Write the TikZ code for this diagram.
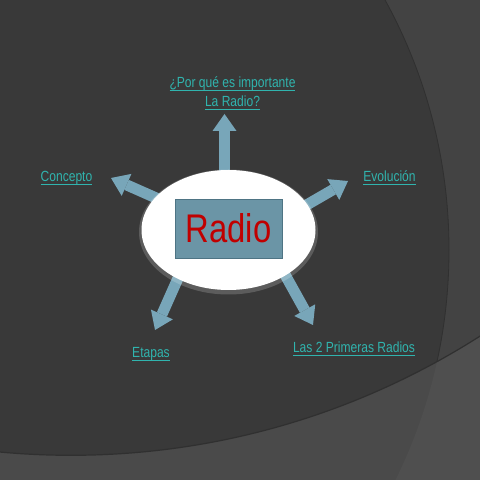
\documentclass[tikz,border=0pt]{standalone}
\usepackage{fontspec}
\setmainfont{Liberation Sans}[FakeStretch=0.82]
\newcommand{\ulink}[1]{\setbox0\hbox{#1}\rlap{\vrule height -2.1pt depth 3.1pt width \wd0}\box0}
\usetikzlibrary{arrows.meta,shapes.geometric}
\definecolor{bgdark}{HTML}{393939}
\definecolor{bgright}{HTML}{434343}
\definecolor{bgbottom}{HTML}{4A4A4A}
\definecolor{bgcorner}{HTML}{4F4F4F}
\definecolor{edgedark}{HTML}{303030}
\definecolor{arrowblue}{HTML}{78A6B9}
\definecolor{rectblue}{HTML}{6B95A6}
\definecolor{rectedge}{HTML}{4E7484}
\definecolor{radiored}{HTML}{C00000}
\definecolor{linkteal}{HTML}{30B4AE}
\tikzset{
  blockarrow/.style={draw=arrowblue, line width=11pt, line cap=butt,
    -{Triangle[length=17pt,width=24pt,line width=0pt,fill=arrowblue]}},
  hub/.style={ellipse, fill=white, minimum width=174pt, minimum height=120pt, inner sep=0pt},
  titlebox/.style={rectangle, fill=rectblue, draw=rectedge, line width=0.8pt,
    minimum width=107pt, minimum height=59pt, inner sep=0pt, text=radiored,
    font=\fontsize{40}{40}\selectfont},
  linklabel/.style={anchor=base, inner sep=0pt, text=linkteal,
    font=\fontsize{14.7}{19}\selectfont},
  glow/.style={fill=white, opacity=0.18}
}
\begin{document}
\begin{tikzpicture}[x=1pt,y=1pt]
\useasboundingbox (0,0) rectangle (480,480);
% background
\begin{scope}
\clip (0,0) rectangle (480,480);
\fill[bgright] (0,0) rectangle (480,480);
\fill[bgdark] (-71,230) circle (520);
\draw[edgedark, line width=0.8pt] (-71,230) circle (520);
\fill[bgbottom, even odd rule] (-10,-10) rectangle (490,490) (70.9,785.9) circle (761.2);
\begin{scope}[even odd rule]
\clip (-10,-10) rectangle (490,490) (-71,230) circle (520);
\fill[bgcorner] (-10,-10) rectangle (490,490) (70.9,785.9) circle (761.2);
\end{scope}
\draw[edgedark, line width=1.2pt] (70.9,785.9) circle (761.2);
\end{scope}
% arrow coordinates
\coordinate (tailUp) at (224.5,300);
\coordinate (tipUp) at (224.5,366);
\coordinate (tailL) at (172,275);
\coordinate (tipL) at (111,302);
\coordinate (tailR) at (291,266);
\coordinate (tipR) at (348,299);
\coordinate (tailBL) at (183,213);
\coordinate (tipBL) at (155,150);
\coordinate (tailBR) at (278,218);
\coordinate (tipBR) at (313,155);
% arrows
\draw[blockarrow] (tailUp) -- (tipUp);
\draw[blockarrow] (tailL) -- (tipL);
\draw[blockarrow] (tailR) -- (tipR);
\draw[blockarrow] (tailBL) -- (tipBL);
\draw[blockarrow] (tailBR) -- (tipBR);
% hub
\fill[glow] (228.5,248) ellipse (89.5 and 62.5);
\node[hub] (hub) at (228.5,250) {};
\node[titlebox] (title) at (228.5,251.5) {Radio};
% labels
\node[linklabel] (q1) at (232.5,392) {\ulink{¿Por qué es importante}};
\node[linklabel] (q2) at (232.5,373) {\ulink{La Radio?}};
\node[linklabel] (concepto) at (66.5,298) {\ulink{Concepto}};
\node[linklabel] (evolucion) at (389.5,298) {\ulink{Evolución}};
\node[linklabel] (etapas) at (151,122) {\ulink{Etapas}};
\node[linklabel] (primeras) at (354,127) {\ulink{Las 2 Primeras Radios}};
\end{tikzpicture}
\end{document}
